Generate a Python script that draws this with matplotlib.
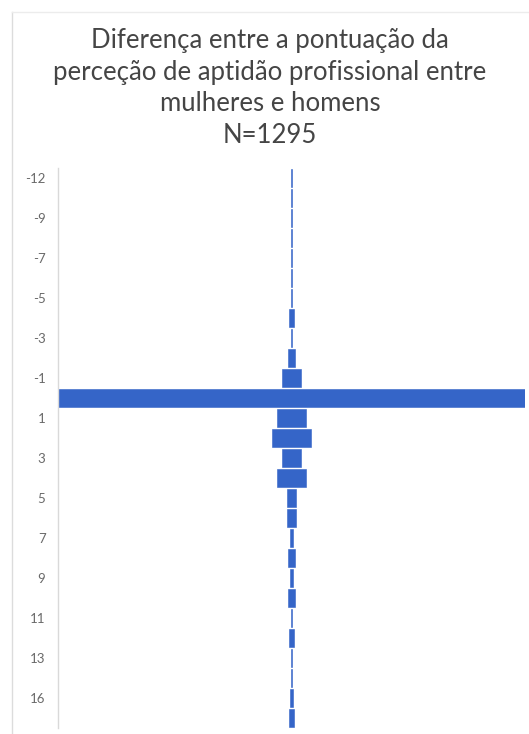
"""Centred horizontal bars: difference in professional-aptitude perception
score between women and men (N=1295)."""

import matplotlib.pyplot as plt
import numpy as np
from matplotlib.lines import Line2D

# score difference categories (top to bottom) and respondent counts
DIFFS = ["-12", "-10", "-9", "-8", "-7", "-6", "-5", "-4", "-3", "-2", "-1",
         "0", "1", "2", "3", "4", "5", "6", "7", "8", "9", "10", "11", "12",
         "13", "14", "16", "18"]
COUNTS = [1, 1, 1, 1, 1, 1, 2, 11, 2, 15, 36,
          897, 57, 74, 38, 55, 19, 17, 6, 13, 6, 15, 2, 8,
          2, 2, 4, 8]

TITLE = ("Diferença entre a pontuação da\n"
         "perceção de aptidão profissional entre\n"
         "mulheres e homens\n"
         "N=1295")

BAR_COLOR = "#3565c8"
TEXT_GREY = "#454545"

plt.rcParams["font.family"] = ["Lato", "DejaVu Sans"]

W, H = 529, 734
fig = plt.figure(figsize=(W / 100, H / 100), dpi=100)

# faint chart-area border (left and top only are inside the crop)
fig.lines.append(Line2D([12 / W, 12 / W], [0, 1 - 12 / H], transform=fig.transFigure,
                        color="#dcdcdc", linewidth=1.0))
fig.lines.append(Line2D([12 / W, 1], [1 - 12 / H, 1 - 12 / H], transform=fig.transFigure,
                        color="#ececec", linewidth=1.0))

ax = fig.add_axes([58 / W, 1 - 728 / H, (525 - 58) / W, (728 - 168) / H])

counts = np.array(COUNTS, dtype=float)
ypos = np.arange(len(DIFFS))
ax.barh(ypos, counts, left=-counts / 2, height=0.9, color=BAR_COLOR,
        edgecolor=BAR_COLOR, linewidth=0.4)

half = counts.max() / 2
ax.set_xlim(-half, half)
ax.set_ylim(len(DIFFS) - 0.5, -0.5)

ax.set_yticks(ypos[::2])
ax.set_yticklabels(DIFFS[::2])
ax.tick_params(axis="y", length=0, pad=9, labelsize=9.5, labelcolor="#6a6a6a")
ax.set_xticks([])

for side in ("top", "right", "bottom"):
    ax.spines[side].set_visible(False)
ax.spines["left"].set_color("#d9d9d9")
ax.spines["left"].set_linewidth(1.0)

fig.text(270 / W, 1 - 88 / H, TITLE, ha="center", va="center",
         fontsize=18.5, color=TEXT_GREY, linespacing=1.32)

fig.savefig("out.png", dpi=100)
